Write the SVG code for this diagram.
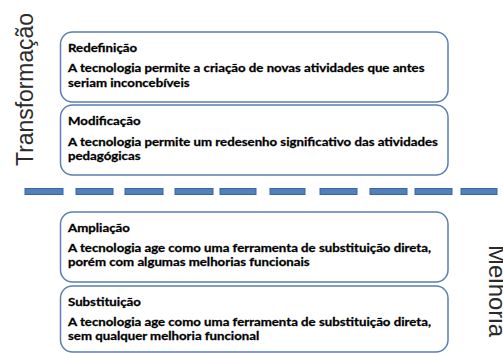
<svg xmlns="http://www.w3.org/2000/svg" width="503" height="353" viewBox="0 0 503 353">
<style>
.box{fill:#ffffff;stroke:#5b7fb3;stroke-width:1.5}
.t{font-family:Lato,"Liberation Sans",sans-serif;font-weight:bold;font-size:10.6px;fill:#000000;stroke:#000000;stroke-width:0.25}
.side{font-family:"Liberation Sans",Arial,sans-serif;font-size:23px;fill:#2b2b2b}
.dash{fill:#4f81bd;stroke:#3b64a0;stroke-width:1}
</style>
<rect width="503" height="353" fill="#ffffff"/>
<g id="label-transformacao"><text class="side" transform="translate(33,166) rotate(-90)" textLength="153" lengthAdjust="spacingAndGlyphs">Transformação</text></g>
<g id="label-melhoria"><text class="side" transform="translate(489,245) rotate(90)" textLength="92" lengthAdjust="spacingAndGlyphs">Melhoria</text></g>
<g id="redefinicao">
<rect class="box" x="60.5" y="32" width="387.5" height="70" rx="12"/>
<g transform="translate(68,0) scale(1.25,1)">
<text class="t" x="0" y="52">Redefinição</text>
<text class="t" x="0" y="72.5">A tecnologia permite a criação de novas atividades que antes</text>
<text class="t" x="0" y="87">seriam inconcebíveis</text>
</g>
</g>
<g id="modificacao">
<rect class="box" x="60.5" y="105" width="387.5" height="70" rx="12"/>
<g transform="translate(68,0) scale(1.25,1)">
<text class="t" x="0" y="125">Modificação</text>
<text class="t" x="0" y="146">A tecnologia permite um redesenho significativo das atividades</text>
<text class="t" x="0" y="160">pedagógicas</text>
</g>
</g>
<g id="divisor">
<rect class="dash" x="25" y="188.5" width="38" height="6"/>
<rect class="dash" x="76" y="188.5" width="37" height="6"/>
<rect class="dash" x="125" y="188.5" width="38" height="6"/>
<rect class="dash" x="175" y="188.5" width="38" height="6"/>
<rect class="dash" x="220" y="188.5" width="36" height="6"/>
<rect class="dash" x="270" y="188.5" width="35" height="6"/>
<rect class="dash" x="320" y="188.5" width="37" height="6"/>
<rect class="dash" x="370" y="188.5" width="37" height="6"/>
<rect class="dash" x="415" y="188.5" width="37" height="6"/>
<rect class="dash" x="461" y="188.5" width="36" height="6"/>
</g>
<g id="ampliacao">
<rect class="box" x="60.5" y="212" width="387.5" height="70" rx="12"/>
<g transform="translate(68,0) scale(1.25,1)">
<text class="t" x="0" y="232">Ampliação</text>
<text class="t" x="0" y="252.5">A tecnologia age como uma ferramenta de substituição direta,</text>
<text class="t" x="0" y="266">porém com algumas melhorias funcionais</text>
</g>
</g>
<g id="substituicao">
<rect class="box" x="60.5" y="286" width="387.5" height="66" rx="12"/>
<g transform="translate(68,0) scale(1.25,1)">
<text class="t" x="0" y="306">Substituição</text>
<text class="t" x="0" y="326.5">A tecnologia age como uma ferramenta de substituição direta,</text>
<text class="t" x="0" y="340">sem qualquer melhoria funcional</text>
</g>
</g>
</svg>
